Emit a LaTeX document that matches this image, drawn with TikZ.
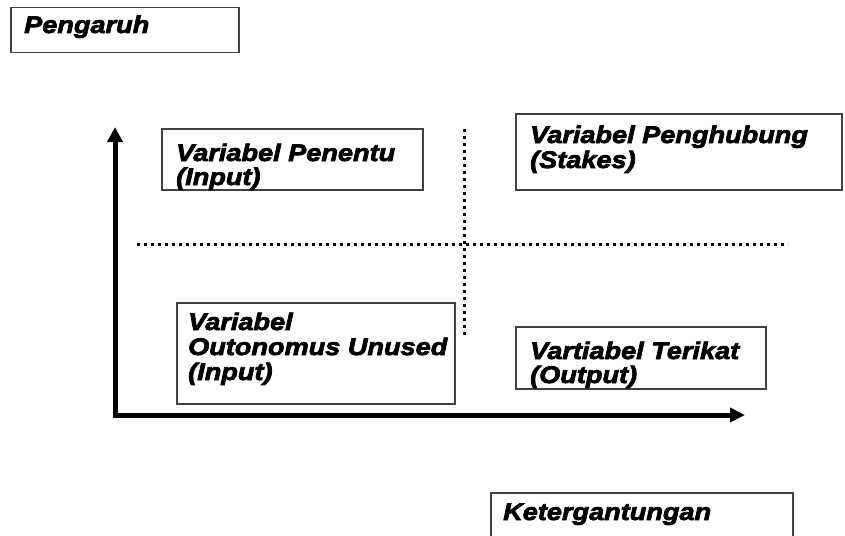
\documentclass[tikz,border=0pt]{standalone}
\usepackage{fontspec}
\setmainfont{Liberation Sans}[BoldItalicFeatures={FakeStretch=1.13,FakeBold=3}]
\usetikzlibrary{arrows.meta}
\tikzset{
  box/.style={draw=black!75, line width=1.5pt, fill=white, rectangle, inner sep=0pt, anchor=north west},
  txt/.style={anchor=base west, inner sep=0pt, font=\fontsize{24}{25}\selectfont\bfseries\itshape},
  axis/.style={line width=5pt, line join=miter, {Triangle[length=15pt,width=15pt]}-{Triangle[length=15pt,width=14pt]}},
  dotline/.style={line width=3pt, dash pattern=on 3pt off 4pt}
}
\begin{document}
\begin{tikzpicture}[x=1pt,y=-1pt]
\useasboundingbox (0,0) rectangle (845,535);
\clip (0,0) rectangle (845,535);
% boxes
\node[box, minimum width=228pt, minimum height=45pt] (bP) at (10,7) {};
\node[box, minimum width=261pt, minimum height=61pt] (bA) at (161,128) {};
\node[box, minimum width=326pt, minimum height=76pt] (bB) at (515,113) {};
\node[box, minimum width=278pt, minimum height=101pt] (bC) at (176,302) {};
\node[box, minimum width=250pt, minimum height=62pt] (bD) at (515,326) {};
\node[box, minimum width=302pt, minimum height=60pt] (bK) at (490,492) {};
% texts
\node[txt] (tP) at (24,33) {Pengaruh};
\node[txt] (tA1) at (176,161) {Variabel Penentu};
\node[txt] (tA2) at (176,185) {(Input)};
\node[txt] (tB1) at (530,143) {Variabel Penghubung};
\node[txt] (tB2) at (530,168) {(Stakes)};
\node[txt] (tC1) at (188,330) {Variabel};
\node[txt] (tC2) at (188,355) {Outonomus Unused};
\node[txt] (tC3) at (188,380) {(Input)};
\node[txt] (tD1) at (530,359) {Vartiabel Terikat};
\node[txt] (tD2) at (530,383) {(Output)};
\node[txt] (tK) at (503,520) {Ketergantungan};
% axes
\coordinate (ytip) at (115,127);
\coordinate (origin) at (115,415);
\coordinate (xtip) at (745,415);
\draw[axis] (ytip) -- (origin) -- (xtip);
% dotted dividers
\coordinate (hL) at (137,244);
\coordinate (hR) at (788,244);
\coordinate (vT) at (464,129);
\coordinate (vB) at (464,338);
\draw[dotline] (hL) -- (hR);
\draw[dotline] (vT) -- (vB);
\end{tikzpicture}
\end{document}
